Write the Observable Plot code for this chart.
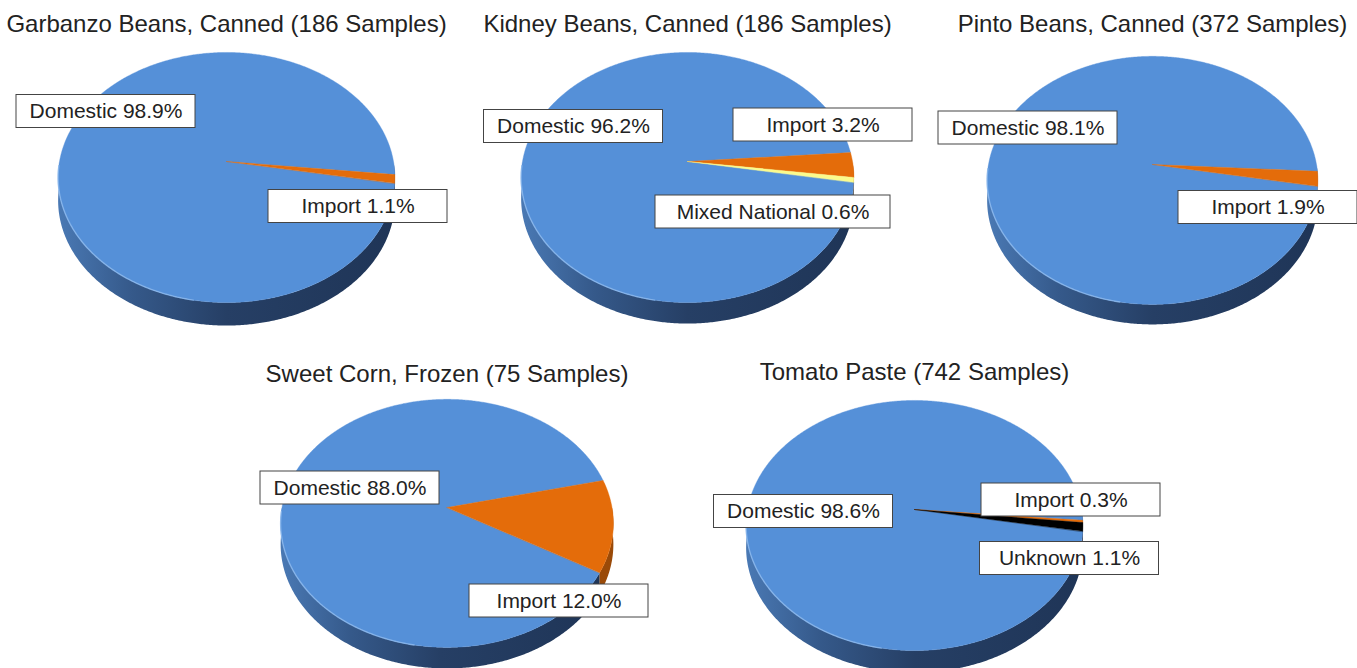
<!DOCTYPE html>
<html>
<head>
<meta charset="utf-8">
<script src="https://cdn.jsdelivr.net/npm/d3@7"></script>
<script src="https://cdn.jsdelivr.net/npm/@observablehq/plot@0.6"></script>
<style>
  html, body { margin: 0; padding: 0; background: #fff; }
  #chart { width: 1357px; height: 668px; }
</style>
</head>
<body>
<svg width="0" height="0" style="position:absolute">
  <defs>
    <linearGradient id="wallBlue" x1="0" x2="1" y1="0" y2="0">
      <stop offset="0" stop-color="#4a79b4"/>
      <stop offset="0.22" stop-color="#35598a"/>
      <stop offset="0.5" stop-color="#263f65"/>
      <stop offset="1" stop-color="#1f3557"/>
    </linearGradient>
  </defs>
</svg>
<div id="chart"></div>
<script>
// ---------- data ----------
const titles = ["Garbanzo Beans, Canned", "Kidney Beans, Canned", "Pinto Beans, Canned", "Sweet Corn, Frozen", "Tomato Paste"];
const sampleCounts = [186, 186, 372, 75, 742];
const sliceCategories = [
  ["Domestic", "Import"],
  ["Domestic", "Import", "Mixed National"],
  ["Domestic", "Import"],
  ["Domestic", "Import"],
  ["Domestic", "Import", "Unknown"]
];
const sliceShares = [
  [98.9, 1.1],
  [96.2, 3.2, 0.6],
  [98.1, 1.9],
  [88.0, 12.0],
  [98.6, 0.3, 1.1]
];
const categoryNames = ["Domestic", "Import", "Mixed National", "Unknown"];

// ---------- styles & layout ----------
const categoryColors = ["#5590d8", "#e46c0a", "#fbfb8c", "#000000"];
const wallColors = ["url(#wallBlue)", "#9a4a08", "#bdbd62", "#000000"];
const layout = [
  {cx: 226, cy: 161, rx: 167, ry: 123, k: 0.128, depth: 23, end: 10, titleY: 24, labels: [[105.5, 111, 179], [357.5, 206, 179]]},
  {cx: 687, cy: 161, rx: 165, ry: 123, k: 0.128, depth: 21, end: 9.5, titleY: 24, labels: [[573, 126, 179], [822.5, 124.5, 179], [772.5, 211.5, 235]]},
  {cx: 1152, cy: 164, rx: 164, ry: 122, k: 0.128, depth: 20, end: 10, titleY: 24, labels: [[1027.5, 127.5, 179], [1267.5, 207, 179]]},
  {cx: 446.5, cy: 507, rx: 165, ry: 122, k: 0.128, depth: 21, end: 30, titleY: 374, labels: [[349.5, 487.5, 179], [558.5, 600.5, 179]]},
  {cx: 914, cy: 509, rx: 167, ry: 123, k: 0.128, depth: 22, end: 10, titleY: 372, labels: [[803, 511, 179], [1070.5, 499.5, 179], [1069, 558, 179]]}
];

// ---------- geometry ----------
function proj(L, deg, dz) {
  const t = deg * Math.PI / 180;
  const X = Math.cos(t), Y = Math.sin(t);
  const s = 1 / (1 - L.k * Y);
  return [L.cx + L.rx * X * s, L.cy + L.ry * Y * s + dz];
}
function steps(a0, a1) {
  const n = Math.max(2, Math.ceil(Math.abs(a1 - a0) / 0.5));
  return d3.range(n + 1).map(i => a0 + (a1 - a0) * i / n);
}

const faces = [], walls = [], rims = [], boxes = [], titleRows = [];
layout.forEach((L, i) => {
  const shares = sliceShares[i], cats = sliceCategories[i];
  const total = d3.sum(shares);
  let t = L.end;
  shares.forEach((v, j) => {
    const t0 = t, t1 = t + 360 * v / total;
    t = t1;
    const id = `${i}-${j}`, cat = cats[j];
    faces.push({id, cat, x: L.cx, y: L.cy});
    for (const a of steps(t0, t1)) {
      const [x, y] = proj(L, a, 0);
      faces.push({id, cat, x, y});
    }
    for (const [f0, f1] of [[0, 180], [360, 540]]) {
      const a0 = Math.max(t0, f0), a1 = Math.min(t1, f1);
      if (a1 <= a0) continue;
      const wid = `${id}-${f0}`;
      const top = steps(a0, a1).map(a => proj(L, a, 0));
      const bot = steps(a0, a1).reverse().map(a => proj(L, a, L.depth));
      for (const [x, y] of top.concat(bot)) walls.push({id: wid, cat, x, y});
    }
    const text = `${cat} ${v.toFixed(1)}%`;
    const [lx, ly, w] = L.labels[j];
    boxes.push({text, x: lx, y: ly, x1: lx - w / 2, x2: lx + w / 2, y1: ly - 16.5, y2: ly + 16.5});
  });
  for (const a of steps(100, 178)) {
    const [x, y] = proj(L, a, 0);
    rims.push({id: i, x, y});
  }
  titleRows.push({text: `${titles[i]} (${sampleCounts[i]} Samples)`, x: L.cx, y: L.titleY});
});

const wallMarks = categoryNames.map((c, ci) =>
  Plot.line(walls.filter(d => d.cat === c), {x: "x", y: "y", z: "id", fill: wallColors[ci], stroke: "none", curve: "linear-closed"})
);

const chart = Plot.plot({
  width: 1357,
  height: 668,
  margin: 0,
  style: {fontFamily: "'Liberation Sans', Arial, sans-serif", background: "#fff"},
  x: {domain: [0, 1357], range: [0, 1357], axis: null},
  y: {domain: [0, 668], range: [0, 668], axis: null},
  color: {domain: categoryNames, range: categoryColors},
  marks: [
    ...wallMarks,
    Plot.line(faces, {x: "x", y: "y", z: "id", fill: "cat", stroke: "cat", strokeWidth: 0.4, curve: "linear-closed"}),
    Plot.line(rims, {x: "x", y: "y", z: "id", stroke: "#8cb9ee", strokeWidth: 1.4, strokeOpacity: 0.8}),
    Plot.rect(boxes, {x1: "x1", x2: "x2", y1: "y1", y2: "y2", fill: "white", stroke: "#444", strokeWidth: 1}),
    Plot.text(boxes, {x: "x", y: "y", text: "text", fontSize: 21, fill: "#222", textAnchor: "middle", lineAnchor: "middle"}),
    Plot.text(titleRows, {x: "x", y: "y", text: "text", fontSize: 24, fill: "#222", textAnchor: "middle", lineAnchor: "middle"})
  ]
});
document.getElementById("chart").appendChild(chart);
</script>
</body>
</html>
